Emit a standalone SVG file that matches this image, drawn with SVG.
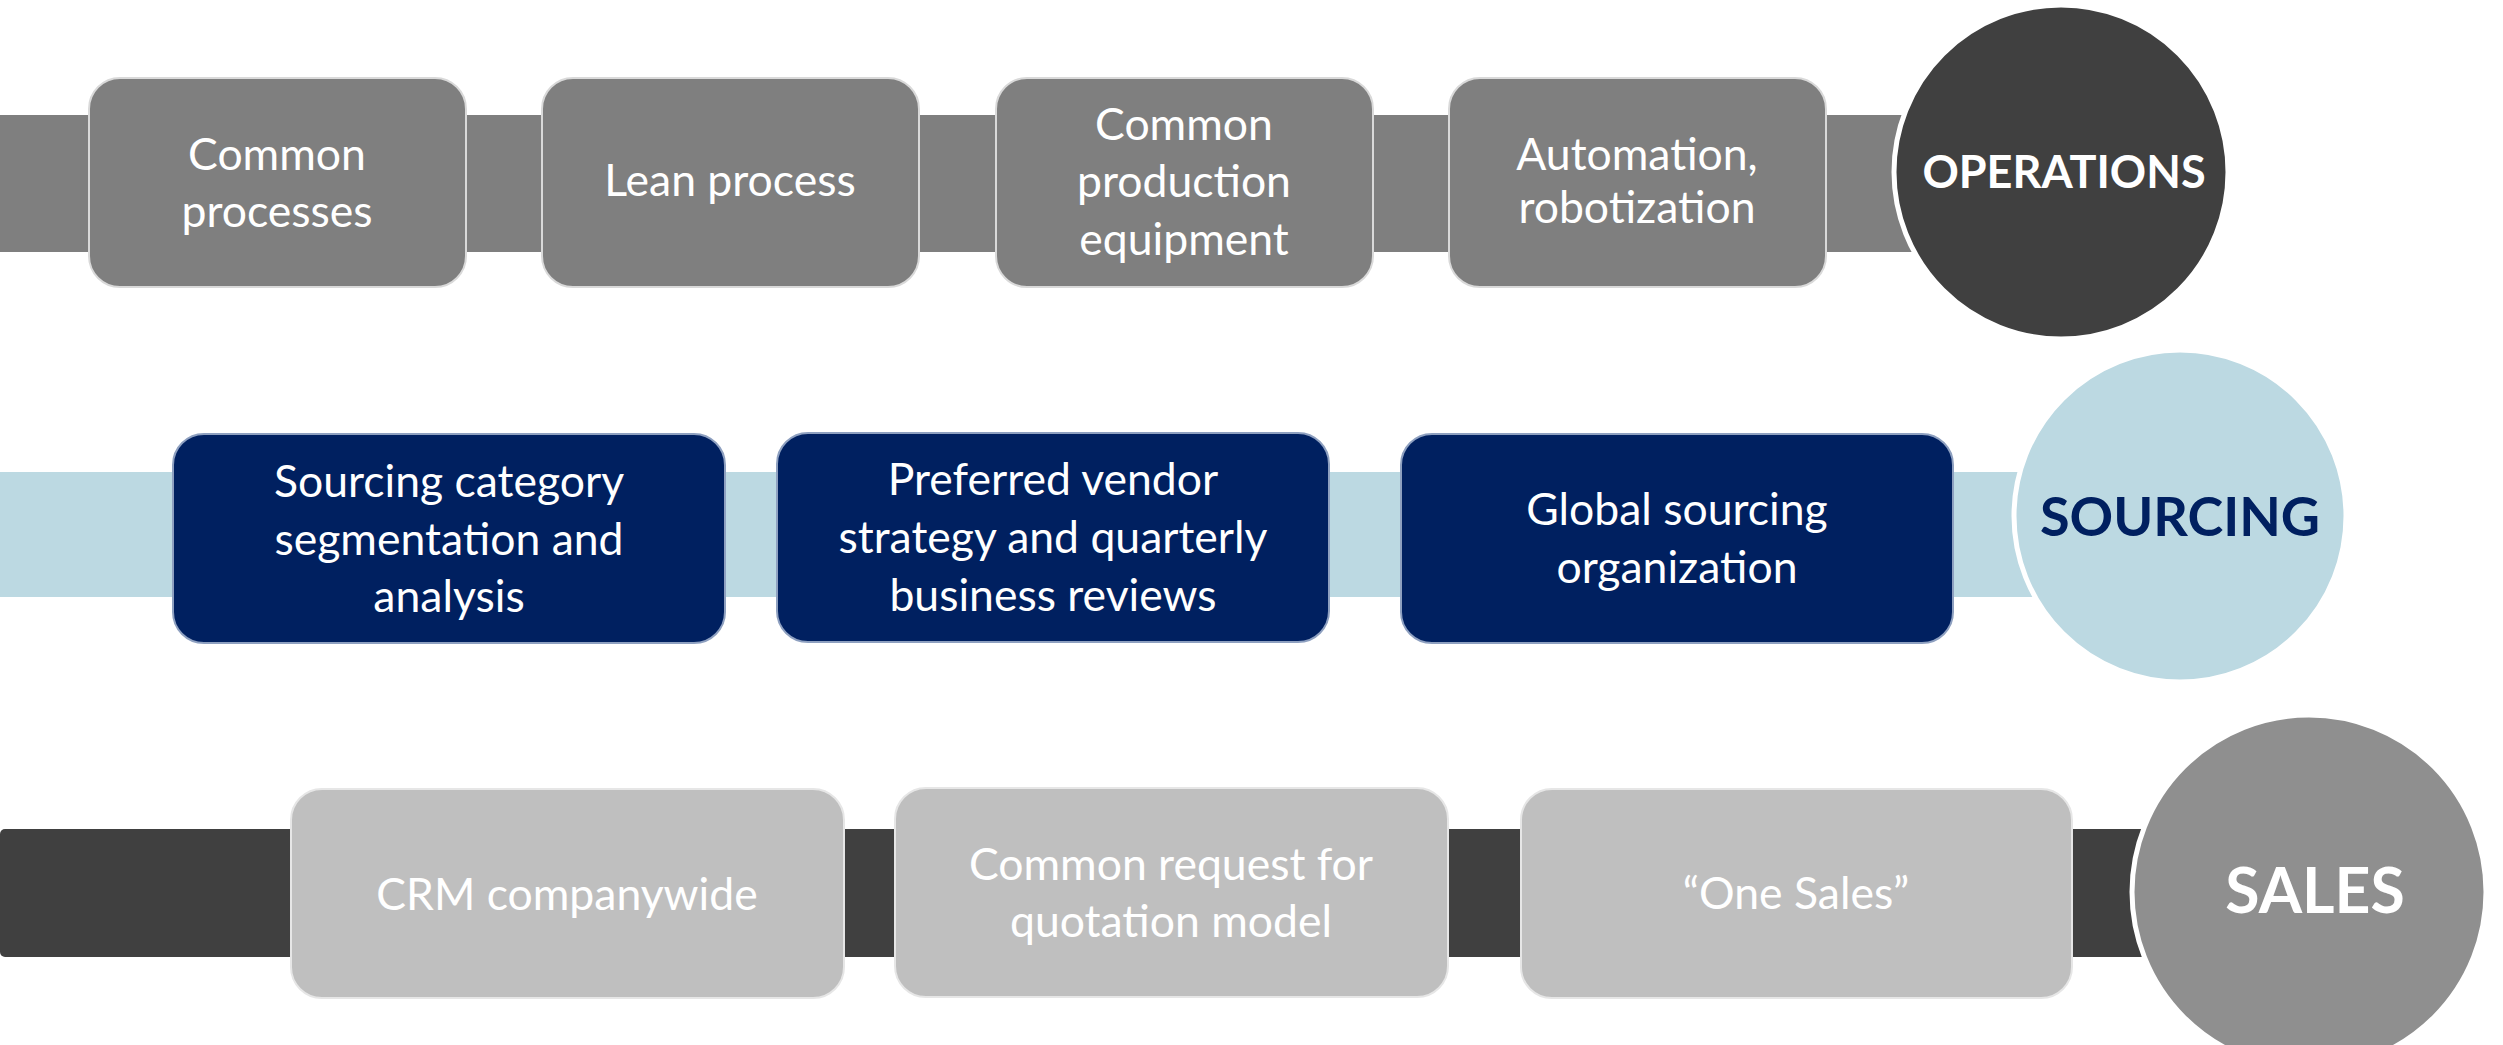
<svg xmlns="http://www.w3.org/2000/svg" width="2503" height="1045" viewBox="0 0 2503 1045">
<style>
.t{font-family:Lato,"Liberation Sans",sans-serif;font-size:44.5px;fill:#ffffff;text-anchor:middle}
.h{font-family:Lato,"Liberation Sans",sans-serif;font-weight:bold;text-anchor:middle}
.ob{fill:#7f7f7f;stroke:#d9d9d9;stroke-width:2}
.sb{fill:#002060;stroke:#8ea0c0;stroke-width:2}
.lb{fill:#bfbfbf;stroke:#e6e6e6;stroke-width:2}
.c{stroke:#ffffff;stroke-width:5}
</style>
<rect width="2503" height="1045" fill="#ffffff"/>
<g id="connectors">
<rect x="0" y="115" width="2060" height="137" fill="#7f7f7f"/>
<rect x="0" y="472" width="2180" height="125" fill="#bcd9e2"/>
<rect x="0" y="829" width="2300" height="128" rx="5" fill="#404040"/>
</g>
<g id="ops1"><rect class="ob" x="89" y="78" width="377" height="209" rx="31"/><text class="t" x="277" y="170">Common</text><text class="t" x="277" y="227">processes</text></g>
<g id="ops2"><rect class="ob" x="542" y="78" width="377" height="209" rx="31"/><text class="t" x="730" y="196">Lean process</text></g>
<g id="ops3"><rect class="ob" x="996" y="78" width="377" height="209" rx="31"/><text class="t" x="1184" y="140">Common</text><text class="t" x="1184" y="197">production</text><text class="t" x="1184" y="255">equipment</text></g>
<g id="ops4"><rect class="ob" x="1449" y="78" width="377" height="209" rx="31"/><text class="t" x="1637" y="170">Automation,</text><text class="t" x="1637" y="223">robotization</text></g>
<g id="operations"><circle class="c" cx="2061" cy="172" r="167" fill="#404040"/><text class="h" x="2064" y="188" font-size="45" fill="#ffffff">OPERATIONS</text></g>
<g id="src1"><rect class="sb" x="173" y="434" width="552" height="209" rx="31"/><text class="t" x="449" y="497">Sourcing category</text><text class="t" x="449" y="555">segmentation and</text><text class="t" x="449" y="612">analysis</text></g>
<g id="src2"><rect class="sb" x="777" y="433" width="552" height="209" rx="31"/><text class="t" x="1053" y="495">Preferred vendor</text><text class="t" x="1053" y="553">strategy and quarterly</text><text class="t" x="1053" y="611">business reviews</text></g>
<g id="src3"><rect class="sb" x="1401" y="434" width="552" height="209" rx="31"/><text class="t" x="1677" y="525">Global sourcing</text><text class="t" x="1677" y="583">organization</text></g>
<g id="sourcing"><circle class="c" cx="2180" cy="516" r="166" fill="#bcd9e2"/><text class="h" x="2180" y="536" font-size="54" fill="#002060">SOURCING</text></g>
<g id="sales1"><rect class="lb" x="291" y="789" width="553" height="209" rx="31"/><text class="t" x="567" y="910">CRM companywide</text></g>
<g id="sales2"><rect class="lb" x="895" y="788" width="553" height="209" rx="31"/><text class="t" x="1171" y="880">Common request for</text><text class="t" x="1171" y="937">quotation model</text></g>
<g id="sales3"><rect class="lb" x="1521" y="789" width="551" height="209" rx="31"/><text class="t" x="1796" y="909">“One Sales”</text></g>
<g id="sales"><circle class="c" cx="2309" cy="892" r="177" fill="#8f8f8f"/><text class="h" x="2315" y="913" font-size="62.5" fill="#ffffff">SALES</text></g>
</svg>
